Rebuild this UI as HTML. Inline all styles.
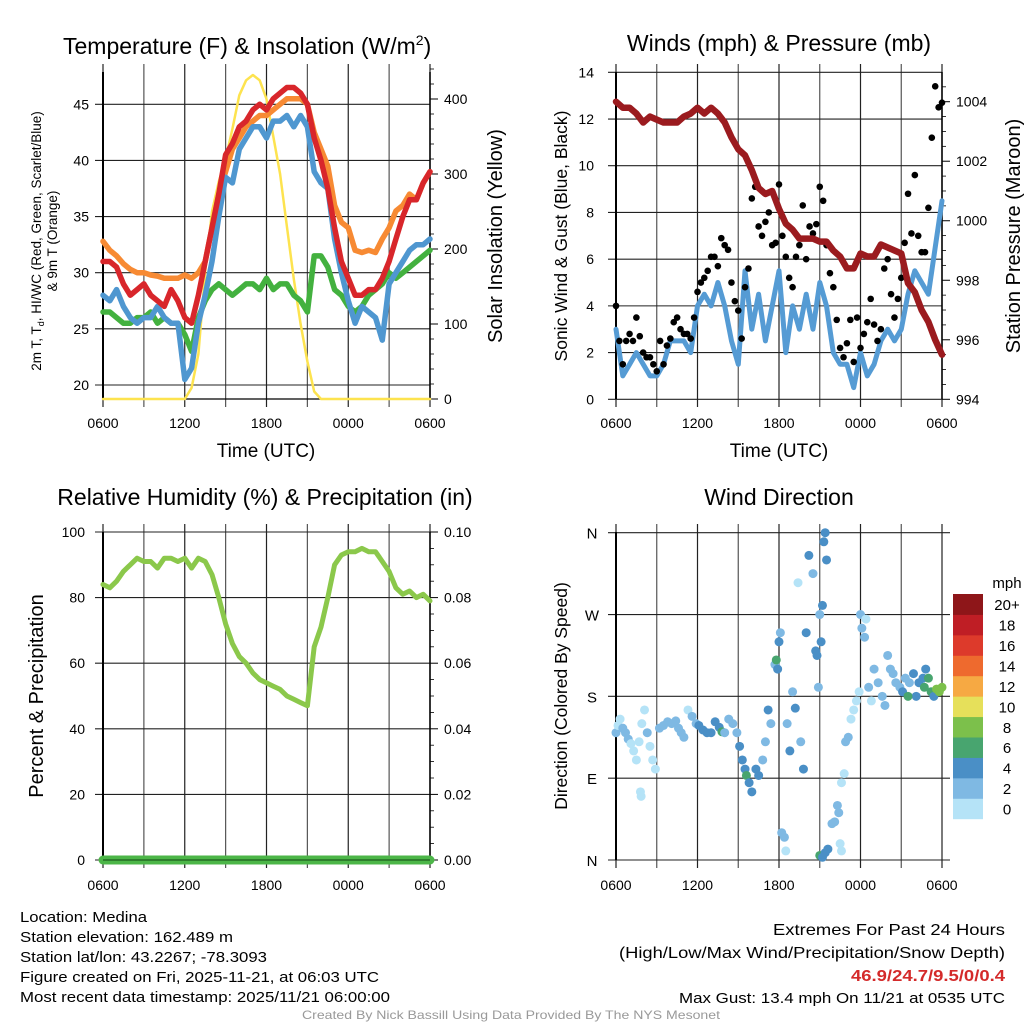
<!DOCTYPE html>
<html><head><meta charset="utf-8"><style>
html,body{margin:0;padding:0;background:#fff;}
svg{display:block;font-family:"Liberation Sans",sans-serif;}
</style></head><body>
<svg id="s" width="1024" height="1024" viewBox="0 0 1024 1024"></svg>
<script>
// ---- data (half-hourly from 0600 UTC to 0600 UTC) ----
const timeLabels = ["0600","1200","1800","0000","0600"];
const tempRed = [31,31,30.5,29,28,28.5,29,28,27.5,27,28.5,27.5,26,25.5,28,31,34,37,40.5,41.5,43,43.5,44.5,45,44.5,45.5,46,46.5,46.5,46,45,42,40,37.5,34,31,29.5,28,28,28.5,28.5,29.5,31,33,35,36.5,36.5,38,39];
const tempOrange = [32.8,32,31.5,30.8,30.3,30,30,29.8,29.7,29.5,29.5,29.5,29.8,29.5,30,31,34,37,39,41,42,43,43.5,44,44,44.5,45,45.5,45.5,45.5,45,42.5,41,39.5,36,34.5,34,32,31.8,32,31.8,33,34,35.5,36,37,36.5,38,39];
const tempBlue = [28,27.5,28.5,27,26,25.5,26,26,27,26,25.5,25.5,20.5,21.5,25.5,28,31,35,38.5,38,41,42,43,43,42,43.5,43.5,44,43,44,43,39,38,37.5,33,30,27.5,25.5,27,26.5,26,24,29,30,31,32,32.5,32.5,33];
const tempGreen = [26.5,26.5,26,25.5,25.5,26,26,26.5,25.5,26,25.5,25.5,24.5,23,26,27.5,28.5,29,28.5,28,28.5,29,29,28.5,29.5,28.5,29,29,28,27.5,26.5,31.5,31.5,30.5,28.5,28,27,26.5,27,28,28.5,29,30,29.5,30,30.5,31,31.5,32];
const solar = [0,0,0,0,0,0,0,0,0,0,0,0,0,15,60,170,250,290,320,360,405,425,432,425,400,350,300,230,160,100,50,10,0,0,0,0,0,0,0,0,0,0,0,0,0,0,0,0,0];
const pressure = [1004.0,1003.8,1003.8,1003.6,1003.3,1003.5,1003.4,1003.3,1003.3,1003.3,1003.5,1003.6,1003.8,1003.6,1003.8,1003.6,1003.3,1002.8,1002.4,1002.2,1001.7,1001.1,1000.9,1001.0,1000.4,999.9,999.7,999.4,999.4,999.4,999.3,999.3,999.0,998.8,998.4,998.4,998.9,998.8,998.8,999.2,999.1,999.0,998.9,997.9,997.6,997.0,996.6,996.0,995.5];
const windSpeed = [3,1,1.5,2,1.5,1,1,1.5,2.5,2.5,2.5,2,4,4.5,4,5,4,2.5,1.5,5.5,3,4.5,2.5,4,5.5,2,4,3,4.5,3,5,4,2,1.5,1.5,0.5,2,1,1.5,2.5,3,2.5,3,4.5,5.5,5,4.5,6.5,8.5];
// gusts every 15 minutes
const gusts = [4,2.5,1.5,2.5,2.8,2.5,3.5,2.7,2,1.8,1.8,1.5,
 1.2,2.5,1.5,2.3,2.6,3.3,3.5,3,2.8,2.8,2.6,3.5,
 4.6,5,5.2,5.5,6.1,6.1,5.7,6.9,6.6,6.4,5,4.2,
 3.8,2.6,4.8,5.6,8.6,9.1,7.4,7,7.6,8,6.6,6.7,
 9.2,7,6.1,5.2,4.8,6.1,6.6,8.3,6,7.4,7.1,7.5,
 9.1,8.5,6.6,5.4,4.8,3.4,2.2,1.8,2.4,3.4,1.6,3.5,
 2.2,2.8,3.3,4.3,3.2,2.5,3,5.6,6,4.5,3.5,4.3,
 5.2,6.7,8.8,7.1,9.6,7,6.3,6.3,8.2,11.2,13.4,12.5,12.7];
const rh = [84,83,85,88,90,92,91,91,89,92,92,91,92,89,92,91,87,80,72,66,62,60,57,55,54,53,52,50,49,48,47,65,71,80,90,93,94,94,95,94,94,91,88,83,81,82,80,81,79];
const precip = [0,0,0,0,0,0,0,0,0,0,0,0,0,0,0,0,0,0,0,0,0,0,0,0,0,0,0,0,0,0,0,0,0,0,0,0,0,0,0,0,0,0,0,0,0,0,0,0,0];
// wind direction: hours since 0600, direction deg, speed mph
const dirHours = [0,0.15,0.3,0.5,0.7,0.9,1.1,1.3,1.5,1.7,1.9,2.1,2.3,2.5,2.7,2.9,1.8,1.85,
 3.2,3.5,3.8,4.1,4.4,4.6,4.8,5.0,5.3,5.6,5.9,
 6.1,6.4,6.7,7.0,7.3,7.6,7.8,8.0,8.3,8.6,8.9,
 9.1,9.3,9.5,9.6,9.8,10.0,10.3,10.5,10.8,11.0,11.2,11.4,
 11.7,11.8,11.9,12.0,12.1,12.2,12.4,12.5,12.6,12.8,13.0,13.2,13.4,13.6,13.8,14.0,14.2,14.5,14.7,14.8,14.9,15.0,15.1,15.2,15.3,15.4,15.5,
 15.0,15.2,15.4,15.6,15.9,16.1,16.3,16.4,16.5,16.6,
 16.6,16.8,16.9,17.1,17.3,17.5,17.7,17.9,18.0,18.1,18.3,18.4,18.6,18.8,
 19.0,19.3,19.6,19.8,20.0,20.2,20.4,20.6,20.9,21.1,21.3,21.6,21.9,22.1,22.3,22.6,22.8,23.0,23.2,23.4,23.6,23.8,24.0,22.7,21.5];
const dirDeg = [140,148,155,145,140,133,128,120,110,130,150,165,140,125,110,100,75,70,
 145,148,152,150,153,145,140,135,165,158,150,
 148,143,140,140,152,146,141,140,155,150,140,
 125,110,100,93,85,75,100,93,110,130,165,150,
 215,220,210,240,250,30,25,10,150,120,185,167,305,130,100,250,335,315,230,225,190,270,240,280,350,360,330,
 5,3,8,12,40,42,60,52,18,10,
 85,95,130,135,155,165,175,185,270,255,245,265,190,175,
 210,195,180,170,225,210,205,195,190,185,200,195,205,180,195,200,210,200,185,180,188,185,190,190,180];
const dirSpeed = [2,1,0,2,2,2,0,0,0,0,0,0,2,0,0,0,0,0,
 2,2,2,2,2,2,2,2,0,2,2,
 4,4,4,4,4,4,6,2,2,2,2,
 4,4,4,6,4,4,4,4,2,2,4,2,
 2,6,4,4,2,2,2,0,2,4,2,4,0,2,4,4,4,2,4,4,2,2,4,4,4,4,4,
 6,4,4,4,2,2,2,2,0,0,
 0,0,2,2,0,0,0,0,2,2,2,0,2,0,
 2,2,2,2,2,2,2,2,2,4,2,2,4,4,4,4,4,6,6,4,8,8,8,6,6];
const legendLabels = ["0","2","4","6","8","10","12","14","16","18","20+"];
const legendColors = ["#b5e3f7","#7fb9e3","#4a8fc6","#48a56f","#7cc04b","#e6e05a","#f6a943","#ee6a2e","#dd3a2b","#bf1e25","#8e1619"];

const NS="http://www.w3.org/2000/svg";
const svg=document.getElementById('s');
function mk(tag,attrs,parent){const e=document.createElementNS(NS,tag);for(const k in attrs)e.setAttribute(k,attrs[k]);(parent||svg).appendChild(e);return e;}
function txt(str,x,y,size,anchor,parent,extra){const e=mk('text',Object.assign({x:x,y:y,'font-size':size,'text-anchor':anchor||'middle',fill:'#000'},extra||{}),parent);e.textContent=str;return e;}

const P={
 tl:{x0:103,x1:430,y0:72,y1:399,lab:29},
 tr:{x0:616,x1:942,y0:72,y1:399,lab:29},
 bl:{x0:103,x1:430,y0:532,y1:860,lab:30},
 br:{x0:616,x1:942,y0:532,y1:860,lab:30}
};
function xs(p,h){return p.x0+(h/24)*(p.x1-p.x0);}
function lin(v,v0,v1,y0,y1){return y0+(v-v0)/(v1-v0)*(y1-y0);}

function frame(p,name){
 const g=mk('g',{});
 
 
 for(let i=0;i<=8;i++){const x=p.x0+i*(p.x1-p.x0)/8;
  mk('line',{x1:x,x2:x,y1:p.y0-8,y2:p.y1+8,stroke:(i%2?'#555':'#222'),'stroke-width':1.2},g);}
 return g;
}
function hgrid(g,p,y){mk('line',{x1:p.x0-8,x2:p.x1,y1:y,y2:y,stroke:'#222','stroke-width':1.1},g);}
function xlabels(p,name){
 const g=mk('g',{});
 
 
 timeLabels.forEach((l,i)=>txt(l,p.x0+i*(p.x1-p.x0)/4,p.y1+p.lab,14,'middle',g));
}
function path(p,arr,fy,color,w,name,parent,step){
 step=step||0.5;
 let d='';arr.forEach((v,i)=>{const x=xs(p,i*step),y=fy(v);d+=(i?'L':'M')+x.toFixed(1)+','+y.toFixed(1);});
 const e=mk('path',{d:d,fill:'none',stroke:color,'stroke-width':w,'stroke-linejoin':'round','stroke-linecap':'round'},parent);
 
 
 return e;
}
function rightTicks(p,vals,fy,fmt,g,minor){
 mk('line',{x1:p.x1,x2:p.x1,y1:p.y0,y2:p.y1,stroke:'#000','stroke-width':1.5},g);
 vals.forEach(v=>{const y=fy(v);mk('line',{x1:p.x1,x2:p.x1+8,y1:y,y2:y,stroke:'#000','stroke-width':1},g);txt(fmt(v),p.x1+14,y+5,14,'start',g);});
 (minor||[]).forEach(v=>{const y=fy(v);mk('line',{x1:p.x1,x2:p.x1+4,y1:y,y2:y,stroke:'#000','stroke-width':0.8},g);});
}

let t;
t=txt('Temperature (F) & Insolation (W/m',63,54,23,'start');
const ts=mk('tspan',{dy:-9,'font-size':14});ts.textContent='2';t.appendChild(ts);
const ts2=mk('tspan',{dy:9});ts2.textContent=')';t.appendChild(ts2);
t=txt('Winds (mph) & Pressure (mb)',779,51,23,'middle');
t=txt('Relative Humidity (%) & Precipitation (in)',265,505,23,'middle');
t=txt('Wind Direction',779,505,23,'middle');

// ===== Panel 1 =====
(function(){
 const p=P.tl;const g=frame(p,'temp');
 const fy=v=>lin(v,20,45,385,104.3);
 const fs=v=>lin(v,0,400,399,99);
 [20,25,30,35,40,45].forEach(v=>{hgrid(g,p,fy(v));txt(String(v),p.x0-14,fy(v)+5,14,'end',g);});
 mk('line',{x1:p.x0,x2:p.x1,y1:p.y1,y2:p.y1,stroke:'#000','stroke-width':1.2},g);
 mk('line',{x1:p.x0,x2:p.x0,y1:p.y0,y2:p.y1,stroke:'#000','stroke-width':2},g);
 const ax=mk('g',{});
 const minor=[];for(let v=20;v<=440;v+=20)if(v%100)minor.push(v);
 rightTicks(p,[0,100,200,300,400],fs,String,ax,minor);
 const lg=mk('g',{});
 path(p,solar,fs,'#fde34f',2.5,'solar-line',lg);
 path(p,tempGreen,fy,'#43b13f',5.5,'dewpoint-line',lg);
 path(p,tempOrange,fy,'#f78a33',5.5,'temp-9m-line',lg);
 path(p,tempBlue,fy,'#4f97d0',5.5,'windchill-line',lg);
 path(p,tempRed,fy,'#d8262b',5.5,'temp-2m-line',lg);
 xlabels(p,'temp');
 t=txt('Time (UTC)',266,457,19,'middle');
 t=txt('',0,0,13.5,'middle',null,{transform:'translate(41,241) rotate(-90)'});
 t.innerHTML='2m T, T<tspan font-size="9" dy="3">d</tspan><tspan dy="-3">, HI/WC (Red, Green, Scarlet/Blue)</tspan>';
 t=txt('& 9m T (Orange)',0,0,13.5,'middle',null,{transform:'translate(57,241) rotate(-90)'});
 t=txt('Solar Insolation (Yellow)',0,0,20,'middle',null,{transform:'translate(502,236) rotate(-90)'});
})();

// ===== Panel 2 =====
(function(){
 const p=P.tr;const g=frame(p,'wind');
 const fy=v=>lin(v,0,14,399.3,72.3);
 const fp=v=>lin(v,994,1004,399.3,101.7);
 [0,2,4,6,8,10,12,14].forEach(v=>{hgrid(g,p,fy(v));txt(String(v),p.x0-22,fy(v)+5,14,'end',g);});
 mk('line',{x1:p.x0,x2:p.x0,y1:p.y0,y2:p.y1,stroke:'#000','stroke-width':2},g);
 const ax=mk('g',{});
 const minor=[];for(let v=994.5;v<1005;v+=0.5)if(v%2)minor.push(v);
 rightTicks(p,[994,996,998,1000,1002,1004],fp,String,ax,minor);
 const lg=mk('g',{});
 path(p,windSpeed,fy,'#559bd4',5,'wind-speed-line',lg);
 gusts.forEach((v,i)=>{const c=mk('circle',{cx:xs(p,i*0.25),cy:fy(v),r:3.3,fill:'#000'},lg);
  
  });
 path(p,pressure,fp,'#9b1b1f',6.5,'pressure-line',lg);
 xlabels(p,'wind');
 t=txt('Time (UTC)',779,457,19,'middle');
 t=txt('Sonic Wind & Gust (Blue, Black)',0,0,17.5,'middle',null,{transform:'translate(567,236) rotate(-90)'});
 t=txt('Station Pressure (Maroon)',0,0,20,'middle',null,{transform:'translate(1020,236) rotate(-90)'});
})();

// ===== Panel 3 =====
(function(){
 const p=P.bl;const g=frame(p,'rh');
 const fy=v=>lin(v,0,100,860,532);
 const fpr=v=>lin(v,0,0.1,860,532);
 [0,20,40,60,80,100].forEach(v=>{hgrid(g,p,fy(v));txt(String(v),p.x0-18,fy(v)+5,14,'end',g);});
 mk('line',{x1:p.x0,x2:p.x0,y1:p.y0,y2:p.y1,stroke:'#000','stroke-width':2},g);
 const ax=mk('g',{});
 const minor=[];for(let v=0.005;v<0.1;v+=0.005)if(Math.round(v*1000)%20)minor.push(v);
 rightTicks(p,[0,0.02,0.04,0.06,0.08,0.1],fpr,v=>v.toFixed(2),ax,minor);
 const lg=mk('g',{});
 path(p,precip,fpr,'#4cb648',9,'precip-line',lg);
 mk('line',{x1:p.x0,x2:p.x1,y1:860,y2:860,stroke:'#1d5c1d','stroke-width':1.2},lg);
 path(p,rh,fy,'#8bc84b',5,'rh-line',lg);
 xlabels(p,'rh');
 t=txt('Percent & Precipitation',0,0,20,'middle',null,{transform:'translate(43,696) rotate(-90)'});
})();

// ===== Panel 4 =====
(function(){
 const p=P.br;const g=frame(p,'direction');
 const fy=v=>lin(v,0,360,860,532.7);
 [[0,'N'],[90,'E'],[180,'S'],[270,'W'],[360,'N']].forEach(a=>{const y=fy(a[0]);mk('line',{x1:p.x0-8,x2:p.x1+8,y1:y,y2:y,stroke:'#222','stroke-width':1.1},g);txt(a[1],p.x0-24,y+6,15,'middle',g);});
 mk('line',{x1:p.x0,x2:p.x0,y1:p.y0,y2:p.y1,stroke:'#000','stroke-width':2},g);
 const lg=mk('g',{});
 dirHours.forEach((h,i)=>{const bin=Math.min(10,Math.floor(dirSpeed[i]/2));
  const c=mk('circle',{cx:xs(p,h),cy:fy(dirDeg[i]),r:4.5,fill:legendColors[bin]},lg);
  
  });
 xlabels(p,'direction');
 t=txt('Direction (Colored By Speed)',0,0,17.5,'middle',null,{transform:'translate(567,696) rotate(-90)'});
 const lgd=mk('g',{});
 const top=594,bot=818.7,h=(bot-top)/11;
 legendLabels.forEach((l,i)=>{const y=bot-(i+1)*h;
  const r=mk('rect',{x:953,y:y,width:30,height:h+0.5,fill:legendColors[i]},lgd);
  
  
  txt(l,1007,y+h/2+6,15,'middle',lgd);});
 txt('mph',1007,588,15,'middle',lgd);
})();

const info=mk('g',{});
[["Location: Medina",127],["Station elevation: 162.489 m",213],["Station lat/lon: 43.2267; -78.3093",247],["Figure created on Fri, 2025-11-21, at 06:03 UTC",359],["Most recent data timestamp: 2025/11/21 06:00:00",370]].forEach((a,i)=>{
 txt(a[0],20,922+i*20,15,'start',info,{textLength:a[1],lengthAdjust:'spacingAndGlyphs'});});
const ext=mk('g',{});
txt('Extremes For Past 24 Hours',1005,935,16,'end',ext,{textLength:232,lengthAdjust:'spacingAndGlyphs'});
txt('(High/Low/Max Wind/Precipitation/Snow Depth)',1005,958,16,'end',ext,{textLength:386,lengthAdjust:'spacingAndGlyphs'});
txt('46.9/24.7/9.5/0/0.4',1005,981,16,'end',ext,{fill:'#d42a2a','font-weight':'bold',textLength:154,lengthAdjust:'spacingAndGlyphs'});
txt('Max Gust: 13.4 mph On 11/21 at 0535 UTC',1005,1003,15,'end',ext,{textLength:326,lengthAdjust:'spacingAndGlyphs'});
t=txt('Created By Nick Bassill Using Data Provided By The NYS Mesonet',511,1019,12,'middle',null,{fill:'#999',textLength:418,lengthAdjust:'spacingAndGlyphs'});

</script>
</body></html>
